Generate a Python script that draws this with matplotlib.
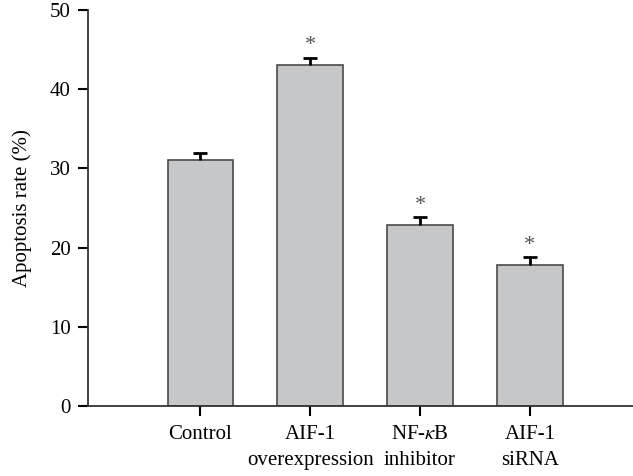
import matplotlib
matplotlib.use("Agg")
import matplotlib.pyplot as plt
import numpy as np

plt.rcParams['font.family'] = ['Liberation Serif', 'DejaVu Serif']
plt.rcParams['mathtext.fontset'] = 'stix'

groups = ["Control", "AIF-1\noverexpression", "NF-$\\kappa$B\ninhibitor", "AIF-1\nsiRNA"]
rates = [31.0, 43.0, 22.9, 17.8]
errors = [1.0, 1.0, 1.0, 1.0]
significant = [False, True, True, True]

fig = plt.figure(figsize=(6.33, 4.76), dpi=100)
ax = fig.add_axes([0.1398, 0.1471, 0.8602, 0.8319])

x = np.arange(len(groups))
tops = np.array(rates) + np.array(errors)
ax.bar(x, rates, width=0.6, color='#c6c7c9', edgecolor='#4a4a4a', linewidth=1.2, zorder=2)
# upper error bar only
ax.vlines(x, rates, tops, color='black', linewidth=2, zorder=3)
ax.plot(x, tops, linestyle='none', marker='_', markersize=9.5, markeredgewidth=2,
        color='black', zorder=3)

for xi, t, s in zip(x, tops, significant):
    if s:
        ax.text(xi, t + 0.9, "*", ha='center', va='baseline', fontsize=16, color='#555555')

ax.set_xlim(-1.02, 3.94)
ax.set_ylim(0, 50)
ax.set_yticks([0, 10, 20, 30, 40, 50])
ax.set_xticks(x)
ax.set_xticklabels(groups, fontsize=15, linespacing=1.45)
ax.tick_params(axis='y', labelsize=15, length=7, width=1.5, direction='out', pad=6)
ax.tick_params(axis='x', length=7, width=1.5, direction='out', pad=7)
ax.set_ylabel("Apoptosis rate (%)", fontsize=15, labelpad=13)

for side in ['top', 'right']:
    ax.spines[side].set_visible(False)
for side in ['left', 'bottom']:
    ax.spines[side].set_linewidth(1.3)
    ax.spines[side].set_color('#333333')

fig.savefig("out.png", dpi=100)
